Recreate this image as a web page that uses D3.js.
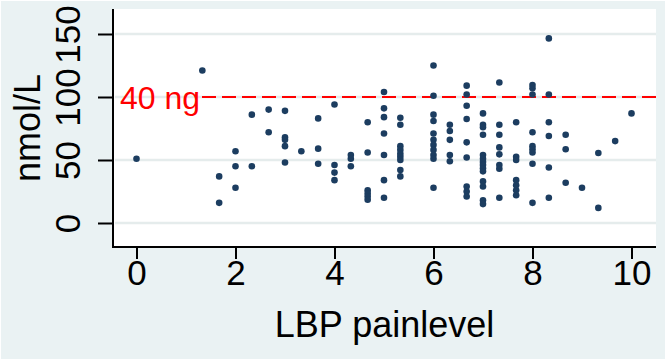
<!DOCTYPE html>
<html>
<head>
<meta charset="utf-8">
<script src="https://cdn.jsdelivr.net/npm/d3@7"></script>
<style>
  body { margin: 0; background: #ffffff; }
  #chart { width: 668px; height: 362px; }
  text { font-family: "Liberation Sans", Arial, Helvetica, sans-serif; }
</style>
</head>
<body>
<div id="chart"></div>
<script>
// pain level (average of three scores) and the nmol/L values measured at each level
var painLevels = [0, 1.33, 1.67, 2, 2.33, 2.67, 3, 3.33, 3.67, 4, 4.33, 4.67, 5, 5.33,
                  6, 6.33, 6.67, 7, 7.33, 7.67, 8, 8.33, 8.67, 9, 9.33, 9.67, 10];
var nmolValues = [
    [51],
    [121],
    [37, 16],
    [57, 45, 28],
    [86, 45],
    [90, 72],
    [89, 68, 66, 61, 48],
    [57],
    [83, 59, 47],
    [94, 46, 40, 34],
    [54, 51, 45],
    [80, 56, 26, 23.5, 21, 18.5],
    [104, 91, 84, 71, 54, 34, 20],
    [83.5, 78, 61, 58, 55, 52.5, 50, 42, 37],
    [125, 101, 86, 81, 71, 66, 62, 58, 54, 51, 28],
    [78, 73, 66, 54, 49],
    [109, 102, 93, 82.5, 64, 52, 29, 25, 21],
    [87, 78, 76, 70, 54, 51, 48.5, 46, 43.5, 41, 33, 29, 18, 15],
    [111.5, 78, 70, 60, 54.5, 46, 43, 20],
    [80, 52.5, 50, 34, 30, 26, 22],
    [109.5, 107, 102, 72, 61, 58.5, 56, 47, 16],
    [146.5, 102, 80, 69, 44, 20],
    [70, 58.5, 32],
    [28],
    [55.5, 12],
    [65],
    [87]
];
var xTicks = [0, 2, 4, 6, 8, 10];
var yTicks = [0, 50, 100, 150];
var refValue = 100;
var refLabel = "40 ng";

var scatterPlot = function(container, points, options) {
    var self = this;
    this.chart = document.getElementById(container);
    this.points = points;
    this.options = options;
    this.cx = 668;
    this.cy = 362;
    self.setProperties();

    this.svg = d3.select(this.chart).append("svg")
        .attr("width", this.cx)
        .attr("height", this.cy);

    this.svg.append("rect")
        .attr("x", 1).attr("y", 1)
        .attr("width", this.cx - 4).attr("height", this.cy - 4)
        .attr("fill", "#eaf2f3");

    this.vis = this.svg.append("g")
        .attr("transform", "translate(" + this.padding.left + "," + this.padding.top + ")");

    self.draw();
}

scatterPlot.prototype.setProperties = function() {
    this.padding = { "top": 9, "bottom": 115, "left": 113, "right": 12 };
    this.size = {
        "width": this.cx - this.padding.left - this.padding.right,
        "height": this.cy - this.padding.top - this.padding.bottom
    };

    this.x = d3.scaleLinear()
        .domain([0, 10])
        .range([23.5, 518.5]);

    this.y = d3.scaleLinear()
        .domain([0, 150])
        .range([214, 25]);
}

scatterPlot.prototype.draw = function() {
    var self = this;
    var w = this.size.width, h = this.size.height;

    this.vis.append("rect")
        .attr("width", w).attr("height", h)
        .attr("fill", "#ffffff");

    // horizontal grid
    this.vis.append("g").selectAll("line").data(yTicks).enter().append("line")
        .attr("x1", 2).attr("x2", w)
        .attr("y1", function(d) { return self.y(d); })
        .attr("y2", function(d) { return self.y(d); })
        .attr("stroke", "#e5ecec")
        .attr("stroke-width", 2.5);

    // reference line
    this.vis.append("line")
        .attr("x1", 89).attr("x2", w)
        .attr("y1", self.y(refValue)).attr("y2", self.y(refValue))
        .attr("stroke", "#ff0000")
        .attr("stroke-width", 2.2)
        .attr("stroke-dasharray", "14,6");

    this.vis.append("text")
        .attr("x", 87).attr("y", self.y(refValue) + 12)
        .attr("text-anchor", "end")
        .attr("fill", "#ff0000")
        .style("font-size", "32px")
        .text(refLabel);

    this.vis.append("g").selectAll("circle").data(this.points).enter().append("circle")
        .attr("cx", function(d) { return self.x(d.pain); })
        .attr("cy", function(d) { return self.y(d.value); })
        .attr("r", 3.3)
        .style("fill", "#1c3d60");

    // axes
    var xAxis = this.vis.append("g")
        .attr("transform", "translate(0," + h + ")")
        .call(d3.axisBottom(this.x).tickValues(xTicks).tickSize(12).tickPadding(1));
    var yAxis = this.vis.append("g")
        .call(d3.axisLeft(this.y).tickValues(yTicks).tickSize(15));

    [xAxis, yAxis].forEach(function(a) {
        a.select(".domain").remove();
        a.selectAll(".tick line").attr("stroke", "#000").attr("stroke-width", 2);
        a.selectAll(".tick text").attr("fill", "#000").style("font-size", "35px");
    });

    yAxis.selectAll(".tick text")
        .attr("transform", "rotate(-90)")
        .attr("x", 0).attr("y", -33).attr("dy", 0)
        .attr("text-anchor", "middle");

    this.vis.append("line")
        .attr("x1", 0).attr("x2", 0).attr("y1", 0).attr("y2", h + 1)
        .attr("stroke", "#000").attr("stroke-width", 2);
    this.vis.append("line")
        .attr("x1", -1).attr("x2", w).attr("y1", h).attr("y2", h)
        .attr("stroke", "#000").attr("stroke-width", 2);

    // axis titles
    this.vis.append("text")
        .attr("x", w / 2).attr("y", h + 90)
        .attr("text-anchor", "middle")
        .style("font-size", "36px")
        .text("LBP painlevel");

    this.vis.append("text")
        .attr("transform", "translate(" + (-73) + "," + (h / 2) + ") rotate(-90)")
        .attr("text-anchor", "middle")
        .style("font-size", "36px")
        .text("nmol/L");
}

var points = [];
painLevels.forEach(function(p, i) {
    nmolValues[i].forEach(function(v) { points.push({ pain: p, value: v }); });
});

var plot = new scatterPlot("chart", points, {});
</script>
</body>
</html>
